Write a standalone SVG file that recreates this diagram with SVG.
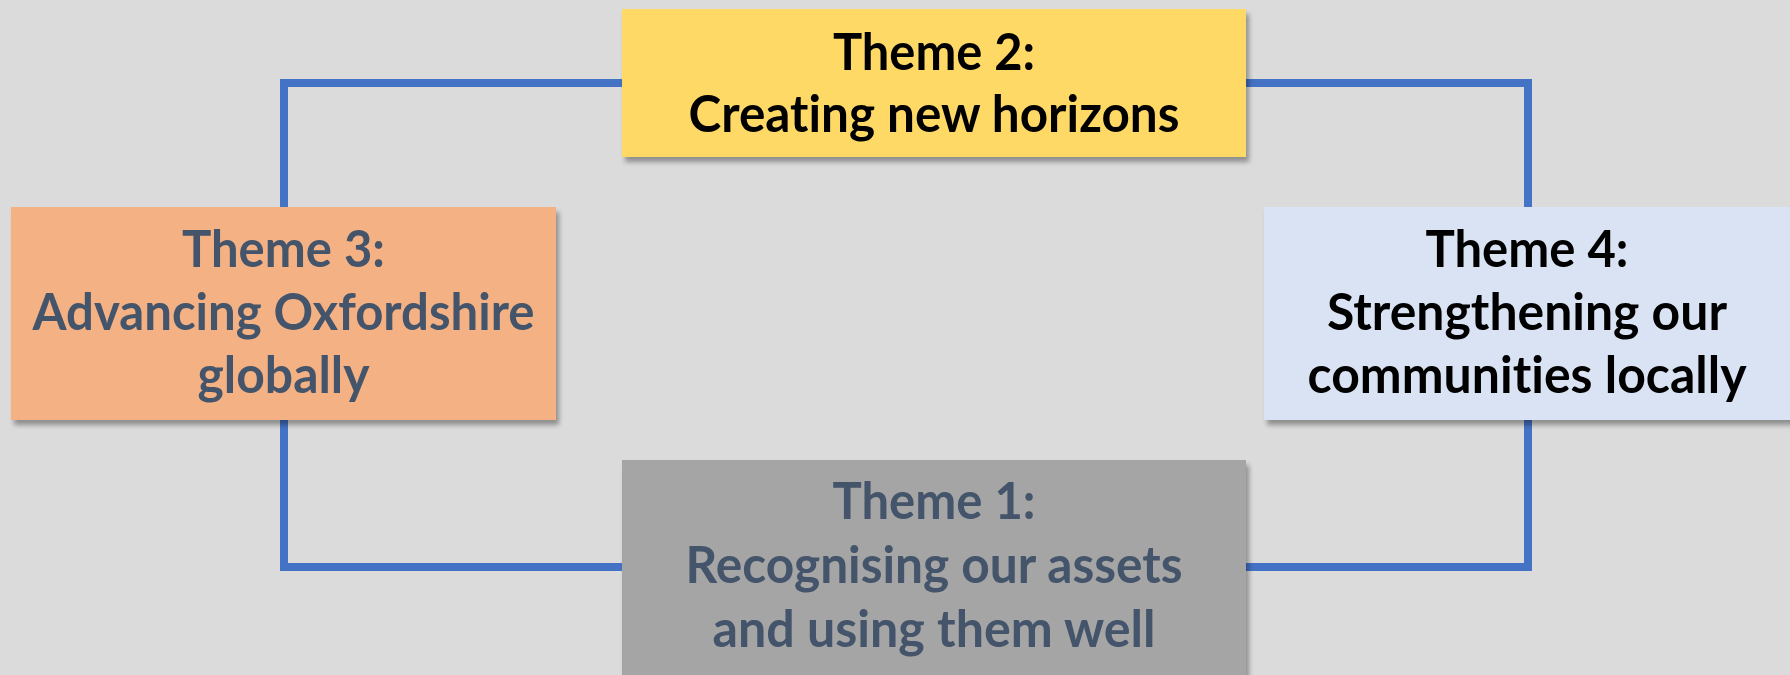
<svg xmlns="http://www.w3.org/2000/svg" width="1790" height="675" viewBox="0 0 1790 675">
<style>
.t{font-family:Lato,"Liberation Sans",sans-serif;font-weight:700;font-size:52px;text-anchor:middle;font-variant-ligatures:none;font-feature-settings:"liga" 0}
.dk{fill:#000000}
.sl{fill:#44546A}
.conn{fill:none;stroke:#4472C4;stroke-width:8}
</style>
<defs>
<filter id="sh" x="-10%" y="-10%" width="120%" height="130%">
<feGaussianBlur in="SourceAlpha" stdDeviation="2.5"/>
<feOffset dx="3" dy="5" result="b"/>
<feComponentTransfer><feFuncA type="linear" slope="0.35"/></feComponentTransfer>
<feMerge><feMergeNode/><feMergeNode in="SourceGraphic"/></feMerge>
</filter>
</defs>
<rect width="1790" height="675" fill="#DBDBDB"/>
<g id="connectors">
<path class="conn" d="M622 83 H284 V207"/>
<path class="conn" d="M1246 83 H1528 V207"/>
<path class="conn" d="M284 419 V567 H622"/>
<path class="conn" d="M1528 419 V567 H1246"/>
</g>
<g id="theme2">
<rect x="622" y="9" width="624" height="148" fill="#FFD966" filter="url(#sh)"/>
<text class="t dk" x="934" y="70" textLength="202" lengthAdjust="spacingAndGlyphs">Theme 2:</text>
<text class="t dk" x="934" y="132" textLength="491" lengthAdjust="spacingAndGlyphs">Creating new horizons</text>
</g>
<g id="theme3">
<rect x="11" y="207" width="545" height="213" fill="#F4B183" filter="url(#sh)"/>
<text class="t sl" x="283.5" y="267" textLength="203" lengthAdjust="spacingAndGlyphs">Theme 3:</text>
<text class="t sl" x="283.5" y="330" textLength="502" lengthAdjust="spacingAndGlyphs">Advancing Oxfordshire</text>
<text class="t sl" x="283.5" y="393" textLength="172" lengthAdjust="spacingAndGlyphs">globally</text>
</g>
<g id="theme4">
<rect x="1264" y="207" width="530" height="213" fill="#DAE3F3" filter="url(#sh)"/>
<text class="t dk" x="1527" y="267" textLength="203" lengthAdjust="spacingAndGlyphs">Theme 4:</text>
<text class="t dk" x="1527" y="330" textLength="400" lengthAdjust="spacingAndGlyphs">Strengthening our</text>
<text class="t dk" x="1527" y="393" textLength="439" lengthAdjust="spacingAndGlyphs">communities locally</text>
</g>
<g id="theme1">
<rect x="622" y="460" width="624" height="220" fill="#A5A5A5" filter="url(#sh)"/>
<text class="t sl" x="934" y="519" textLength="203" lengthAdjust="spacingAndGlyphs">Theme 1:</text>
<text class="t sl" x="934" y="583" textLength="497" lengthAdjust="spacingAndGlyphs">Recognising our assets</text>
<text class="t sl" x="934" y="647" textLength="443" lengthAdjust="spacingAndGlyphs">and using them well</text>
</g>
</svg>
